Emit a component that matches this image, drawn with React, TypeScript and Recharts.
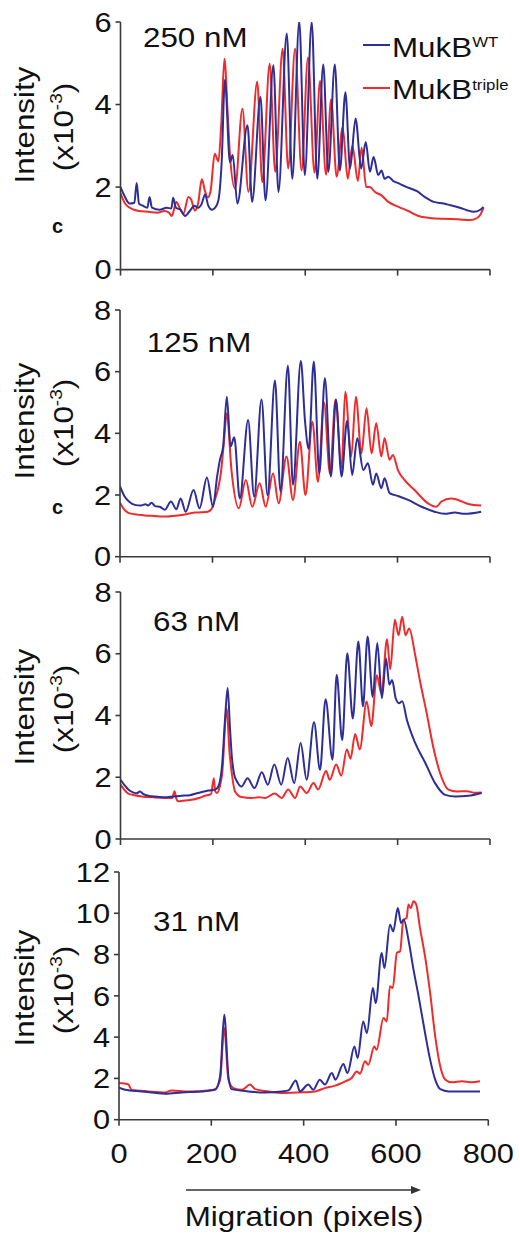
import React from "react";
import { LineChart, Line, XAxis, YAxis } from "recharts";

// ---------- data (x = migration in pixels, y = intensity x10^-3) ----------
const X_TICKS = [0, 200, 400, 600, 800];
const CONCENTRATIONS = ["250 nM", "125 nM", "63 nM", "31 nM"];
const SERIES_NAMES = ["MukB", "MukB"];
const SERIES_SUPERS = ["WT", "triple"];

const p1Wt: [number, number][] = [
  [0, 2.0], [8, 1.8], [20, 1.6], [30, 1.62], [35, 2.1], [40, 1.6], [48, 1.55], [58, 1.5], [63, 1.76], [68, 1.5],
  [85, 1.45], [100, 1.5], [110, 1.48], [114, 1.74], [120, 1.5], [130, 1.45], [140, 1.3], [150, 1.42], [160, 1.55],
  [168, 1.5], [176, 1.6], [183, 1.82], [190, 1.55], [198, 1.45], [205, 1.5], [212, 1.68], [219, 2.6], [226, 4.6],
  [237, 2.6], [243, 2.78], [253, 1.6], [275, 3.5], [285, 1.64], [303, 4.18], [314, 1.68], [331, 4.95], [342, 1.88],
  [360, 5.72], [372, 2.2], [387, 6.02], [399, 2.29], [414, 6.0], [426, 2.2], [439, 4.97], [450, 2.37], [464, 4.97],
  [475, 2.4], [487, 4.3], [497, 2.45], [509, 3.66], [521, 2.45], [531, 3.09], [540, 2.37], [548, 2.73], [558, 2.29],
  [565, 2.4], [572, 2.2], [580, 2.25], [590, 2.15], [600, 2.1], [620, 2.0], [642, 1.9], [660, 1.75], [678, 1.64],
  [700, 1.6], [714, 1.56], [735, 1.5], [750, 1.44], [765, 1.4], [779, 1.45], [786, 1.52],
];
const p1Triple: [number, number][] = [
  [0, 1.85], [10, 1.6], [20, 1.5], [40, 1.42], [60, 1.4], [80, 1.38], [95, 1.42], [105, 1.38], [111, 1.3],
  [121, 1.64], [128, 1.5], [136, 1.35], [147, 1.76], [153, 1.7], [161, 1.43], [168, 1.6], [176, 2.19], [183, 1.9],
  [189, 1.75], [195, 1.9], [204, 2.81], [212, 2.62], [218, 3.5], [225, 5.11], [232, 3.8], [237, 2.77], [248, 1.96],
  [264, 3.9], [277, 1.88], [296, 4.55], [307, 2.12], [323, 4.99], [335, 2.37], [351, 5.35], [363, 2.45], [378, 5.35],
  [392, 2.4], [406, 5.14], [420, 2.35], [432, 4.57], [445, 2.3], [456, 4.13], [468, 2.25], [481, 3.45], [492, 2.2],
  [502, 3.0], [514, 2.15], [522, 2.95], [532, 2.0], [540, 2.0], [551, 1.88], [565, 1.8], [580, 1.64], [602, 1.52],
  [623, 1.42], [645, 1.3], [670, 1.25], [700, 1.23], [730, 1.22], [757, 1.2], [772, 1.25], [780, 1.35], [786, 1.5],
];

const p2Wt: [number, number][] = [
  [0, 2.28], [10, 1.95], [20, 1.78], [32, 1.68], [45, 1.66], [55, 1.7], [61, 1.66], [68, 1.75], [76, 1.64],
  [86, 1.62], [97, 1.52], [110, 1.79], [122, 1.54], [131, 1.89], [142, 1.46], [159, 2.16], [172, 1.57], [188, 2.57],
  [201, 1.62], [210, 2.6], [216, 3.14], [223, 3.57], [231, 5.19], [239, 3.57], [247, 3.87], [259, 1.89], [277, 4.43],
  [290, 1.95], [306, 5.1], [319, 2.0], [335, 5.71], [347, 2.11], [363, 6.19], [374, 2.33], [391, 6.35], [400, 4.4],
  [408, 3.5], [419, 6.33], [431, 2.7], [443, 5.79], [456, 2.6], [467, 5.1], [479, 2.6], [491, 4.4], [502, 2.65],
  [513, 3.84], [526, 2.81], [536, 3.03], [547, 2.33], [554, 2.7], [565, 2.22], [572, 2.54], [583, 2.06], [601, 1.97],
  [623, 1.84], [652, 1.62], [680, 1.46], [702, 1.39], [724, 1.43], [745, 1.39], [781, 1.46],
];
const p2Triple: [number, number][] = [
  [0, 1.75], [8, 1.55], [17, 1.43], [30, 1.38], [46, 1.35], [60, 1.33], [75, 1.32], [90, 1.3], [104, 1.3],
  [118, 1.33], [133, 1.35], [150, 1.4], [162, 1.43], [175, 1.44], [190, 1.46], [198, 1.55], [205, 1.84], [212, 2.2],
  [218, 2.7], [224, 3.6], [231, 4.65], [241, 2.81], [257, 1.57], [272, 2.49], [286, 1.62], [302, 2.38], [315, 1.62],
  [331, 2.7], [343, 1.73], [360, 3.25], [374, 1.84], [389, 3.73], [401, 2.0], [416, 4.38], [428, 2.43], [441, 5.0],
  [454, 2.7], [466, 5.1], [479, 2.87], [487, 5.35], [500, 3.25], [510, 5.19], [522, 3.35], [533, 4.81], [544, 3.35],
  [554, 4.33], [565, 3.25], [572, 3.84], [583, 3.14], [590, 3.3], [601, 2.81], [615, 2.49], [637, 2.16], [666, 1.73],
  [684, 1.62], [695, 1.79], [716, 1.89], [731, 1.84], [753, 1.71], [781, 1.66],
];

const p3Wt: [number, number][] = [
  [0, 1.92], [10, 1.72], [17, 1.6], [27, 1.51], [35, 1.48], [42, 1.54], [50, 1.45], [60, 1.4], [80, 1.37], [96, 1.35],
  [115, 1.38], [132, 1.4], [150, 1.42], [168, 1.49], [190, 1.57], [205, 1.6], [212, 1.71], [220, 2.4], [226, 3.8],
  [232, 4.89], [237, 3.6], [241, 2.68], [246, 2.1], [252, 1.87], [262, 1.7], [275, 1.97], [290, 1.65], [306, 2.16],
  [319, 1.76], [333, 2.41], [348, 1.76], [362, 2.62], [376, 1.81], [390, 3.11], [403, 1.92], [419, 3.78], [432, 2.24],
  [444, 4.53], [459, 2.57], [468, 5.32], [480, 3.2], [491, 6.02], [503, 3.9], [515, 6.4], [525, 4.3], [535, 6.56],
  [546, 4.6], [556, 6.35], [566, 4.56], [575, 5.85], [582, 5.0], [588, 5.15], [596, 4.55], [603, 4.4], [610, 4.46],
  [620, 3.86], [638, 3.11], [660, 2.46], [681, 1.81], [703, 1.43], [725, 1.38], [753, 1.4], [782, 1.49],
];
const p3Triple: [number, number][] = [
  [0, 1.76], [8, 1.6], [17, 1.47], [30, 1.42], [46, 1.38], [70, 1.35], [96, 1.33], [112, 1.33], [117, 1.55],
  [121, 1.3], [125, 1.22], [140, 1.25], [154, 1.27], [170, 1.33], [183, 1.4], [196, 1.45], [202, 1.97], [205, 1.55],
  [209, 1.49], [215, 1.7], [220, 2.1], [230, 4.24], [236, 2.8], [240, 2.25], [248, 1.54], [262, 1.36], [284, 1.33],
  [300, 1.35], [313, 1.33], [334, 1.47], [349, 1.33], [363, 1.6], [378, 1.33], [389, 1.7], [403, 1.49], [418, 1.81],
  [428, 1.6], [445, 2.2], [453, 1.92], [467, 2.41], [478, 2.05], [490, 2.9], [498, 2.6], [508, 3.4], [518, 2.9],
  [533, 4.45], [543, 3.65], [555, 5.3], [565, 4.7], [577, 6.47], [584, 5.5], [594, 7.1], [602, 6.6], [610, 7.2],
  [617, 6.6], [625, 6.82], [638, 5.96], [648, 5.15], [663, 4.07], [677, 2.99], [692, 2.13], [710, 1.6], [728, 1.54],
  [750, 1.55], [765, 1.5], [782, 1.51],
];

const p4Wt: [number, number][] = [
  [0, 1.55], [13, 1.45], [49, 1.37], [100, 1.26], [136, 1.32], [179, 1.37], [208, 1.45], [219, 2.1], [228, 5.09],
  [237, 2.1], [244, 1.48], [280, 1.37], [316, 1.32], [352, 1.37], [367, 1.42], [383, 1.9], [392, 1.37], [410, 1.7],
  [421, 1.45], [435, 1.94], [446, 1.7], [461, 2.26], [469, 1.94], [486, 2.7], [495, 2.26], [510, 3.55], [517, 2.99],
  [529, 4.76], [537, 4.2], [550, 6.38], [556, 5.65], [569, 8.07], [575, 7.35], [587, 9.45], [594, 9.12], [604, 10.25],
  [611, 9.53], [617, 9.69], [627, 8.72], [638, 7.27], [649, 5.98], [663, 4.2], [674, 2.91], [685, 1.94], [696, 1.48],
  [714, 1.37], [750, 1.37], [782, 1.37],
];
const p4Triple: [number, number][] = [
  [0, 1.78], [20, 1.72], [27, 1.45], [64, 1.37], [100, 1.32], [114, 1.42], [150, 1.37], [194, 1.42], [208, 1.48],
  [219, 1.94], [228, 4.44], [237, 1.94], [248, 1.53], [266, 1.45], [284, 1.7], [295, 1.48], [324, 1.37], [352, 1.29],
  [389, 1.32], [425, 1.37], [446, 1.53], [468, 1.65], [490, 1.86], [504, 2.02], [515, 2.34], [522, 2.23], [533, 2.83],
  [540, 2.66], [553, 3.55], [558, 3.39], [573, 4.93], [580, 4.76], [587, 6.46], [593, 6.38], [602, 8.08], [609, 8.16],
  [616, 9.69], [623, 9.77], [627, 10.42], [632, 10.25], [638, 10.58], [644, 10.42], [652, 9.29], [663, 7.91],
  [674, 6.14], [685, 4.04], [696, 2.58], [707, 1.94], [721, 1.81], [743, 1.86], [764, 1.81], [782, 1.86],
];

// ---------- styling / layout ----------
const FONT = "'Liberation Sans', Arial, Helvetica, sans-serif";
const BLUE = "#2d2e96";
const RED = "#ef2b2b";
const AXIS = "#3a3a3a";
const INK = "#111";
const SX = 1.12;

type Panel = {
  top: number; bottom: number; left: number; right: number;
  yMax: number; yTicks: number[]; wt: [number, number][]; triple: [number, number][];
  xLabels: boolean; label: string; labelX: number; labelY: number;
  yLabelC: number; cLabelY?: number;
};

const PANELS: Panel[] = [
  { top: 21.7, bottom: 269.3, left: 120.5, right: 490, yMax: 6, yTicks: [0, 2, 4, 6], wt: p1Wt, triple: p1Triple,
    xLabels: false, label: CONCENTRATIONS[0], labelX: 143, labelY: 46.7, yLabelC: 125, cLabelY: 233 },
  { top: 310, bottom: 556.7, left: 120, right: 490, yMax: 8, yTicks: [0, 2, 4, 6, 8], wt: p2Wt, triple: p2Triple,
    xLabels: false, label: CONCENTRATIONS[1], labelX: 146.7, labelY: 351.7, yLabelC: 421, cLabelY: 514 },
  { top: 592.3, bottom: 839.3, left: 120.5, right: 490, yMax: 8, yTicks: [0, 2, 4, 6, 8], wt: p3Wt, triple: p3Triple,
    xLabels: false, label: CONCENTRATIONS[2], labelX: 153, labelY: 630.7, yLabelC: 707 },
  { top: 872.3, bottom: 1120, left: 119, right: 488.3, yMax: 12, yTicks: [0, 2, 4, 6, 8, 10, 12], wt: p4Wt, triple: p4Triple,
    xLabels: true, label: CONCENTRATIONS[3], labelX: 153, labelY: 930.7, yLabelC: 988 },
];

const toPts = (arr: [number, number][]) => arr.map(([x, y]) => ({ x, y }));

const YTick = (props: any) => {
  const { x, y, payload } = props;
  return (
    <text transform={`translate(${x},${y + 9.7}) scale(1.14,1)`} textAnchor="end" fontSize={27}
      fontFamily={FONT} fill={INK}>{payload.value}</text>
  );
};
const XTickLabel = (props: any) => {
  const { x, y, payload } = props;
  return (
    <text transform={`translate(${x},${y + 37}) scale(1.14,1)`} textAnchor="middle" fontSize={27}
      fontFamily={FONT} fill={INK}>{payload.value}</text>
  );
};
const XTickEmpty = () => <g />;

const MT = 24;
const XH = 50;

function PanelChart({ p }: { p: Panel }) {
  const plotH = p.bottom - p.top;
  return (
    <div style={{ position: "absolute", left: 0, top: p.top - MT }}>
      <LineChart width={520} height={plotH + MT + XH} margin={{ top: MT, right: 520 - p.right, bottom: 0, left: 0 }}>
        <XAxis dataKey="x" type="number" domain={[0, 800]} ticks={X_TICKS} allowDataOverflow height={XH}
          axisLine={{ stroke: AXIS, strokeWidth: 1.6 }} tickLine={{ stroke: AXIS, strokeWidth: 1.6 }}
          tickSize={6} tickMargin={0} tick={p.xLabels ? XTickLabel : XTickEmpty} interval={0} />
        <YAxis type="number" domain={[0, p.yMax]} ticks={p.yTicks} width={p.left} allowDataOverflow
          axisLine={{ stroke: AXIS, strokeWidth: 1.6 }} tickLine={{ stroke: AXIS, strokeWidth: 1.6 }}
          tickSize={5} tickMargin={4} tick={YTick} interval={0} />
        <Line data={toPts(p.triple)} dataKey="y" type="monotone" stroke={RED} strokeWidth={2} dot={false}
          activeDot={false} isAnimationActive={false} />
        <Line data={toPts(p.wt)} dataKey="y" type="monotone" stroke={BLUE} strokeWidth={2} dot={false}
          activeDot={false} isAnimationActive={false} />
      </LineChart>
    </div>
  );
}

function T({ x, y, size = 28, sx = SX, anchor = "start", rot = 0, weight = "normal", children }: any) {
  return (
    <text transform={`translate(${x},${y}) rotate(${rot}) scale(${sx},1)`} textAnchor={anchor} fontSize={size}
      fontFamily={FONT} fontWeight={weight} fill={INK}>{children}</text>
  );
}

function Overlay() {
  return (
    <svg width={520} height={1237} style={{ position: "absolute", left: 0, top: 0, pointerEvents: "none" }}>
      {PANELS.map((p, i) => (
        <g key={i}>
          <T x={p.labelX} y={p.labelY}>{p.label}</T>
          <T x={34} y={p.yLabelC} rot={-90} anchor="middle">Intensity</T>
          <text transform={`translate(72.5,${p.yLabelC + 2}) rotate(-90) scale(${SX},1)`} textAnchor="middle"
            fontSize={28} fontFamily={FONT} fill={INK}>
            (x10<tspan fontSize={17} dy={-11}>-3</tspan><tspan fontSize={28} dy={11}>)</tspan>
          </text>
          {p.cLabelY !== undefined && (
            <T x={52} y={p.cLabelY} size={20} sx={1} weight="bold">c</T>
          )}
        </g>
      ))}
      {/* legend */}
      <line x1={363} y1={45} x2={390} y2={45} stroke={BLUE} strokeWidth={2} />
      <text transform={`translate(392,56.7) scale(${SX},1)`} fontSize={28} fontFamily={FONT} fill={INK}>
        {SERIES_NAMES[0]}<tspan fontSize={15} dy={-10}>{SERIES_SUPERS[0]}</tspan>
      </text>
      <line x1={363} y1={88} x2={390} y2={88} stroke={RED} strokeWidth={2} />
      <text transform={`translate(392,99.3) scale(${SX},1)`} fontSize={28} fontFamily={FONT} fill={INK}>
        {SERIES_NAMES[1]}<tspan fontSize={15} dy={-9.5}>{SERIES_SUPERS[1]}</tspan>
      </text>
      {/* migration arrow */}
      <line x1={186} y1={1190} x2={412} y2={1190} stroke="#333" strokeWidth={1.5} />
      <polygon points="411,1186 421,1190 411,1194" fill="#333" />
      <T x={304} y={1226} anchor="middle">Migration (pixels)</T>
    </svg>
  );
}

export default function App() {
  return (
    <div style={{ position: "absolute", left: 0, top: 0, width: 520, height: 1237, background: "#fff", overflow: "hidden" }}>
      {PANELS.map((p, i) => <PanelChart key={i} p={p} />)}
      <Overlay />
    </div>
  );
}
